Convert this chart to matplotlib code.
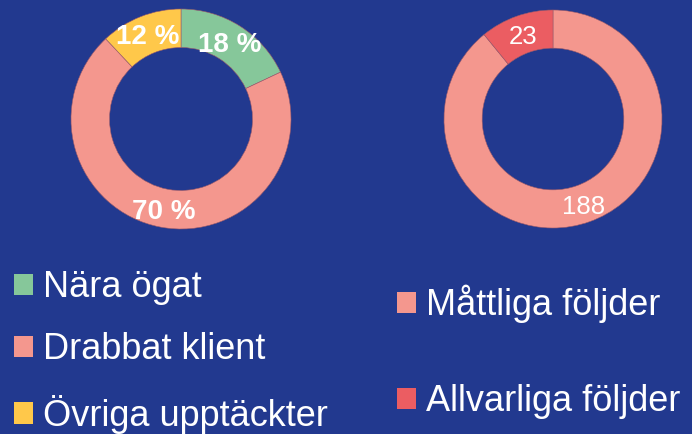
import matplotlib.pyplot as plt
from matplotlib.patches import Patch

plt.rcParams['font.family'] = ['Liberation Sans', 'DejaVu Sans']

# data
left_labels = ['Nära ögat', 'Drabbat klient', 'Övriga upptäckter']
left_values = [18, 70, 12]
left_colors = ['#86C79A', '#F4978E', '#FFC84A']

right_labels = ['Måttliga följder', 'Allvarliga följder']
right_values = [188, 23]
right_colors = ['#F4978E', '#EB5D62']

bg = '#22398F'
W, H = 692, 434

fig = plt.figure(figsize=(W / 100, H / 100), dpi=100, facecolor=bg)


def donut(cx, cy, r, values, colors, fmt, weight, size):
    ax = fig.add_axes([(cx - r) / W, (H - cy - r) / H, 2 * r / W, 2 * r / H])
    wedges, texts, autotexts = ax.pie(
        values, colors=colors, startangle=90, counterclock=False,
        wedgeprops=dict(width=0.35, edgecolor='#9a5a6a', linewidth=0.4),
        autopct=fmt, pctdistance=0.83,
        textprops=dict(color='white', fontsize=size, fontweight=weight))
    # labels sit a touch lower in the original
    for t in autotexts:
        x, y = t.get_position()
        t.set_position((x, y - 0.03))
    ax.set_xlim(-1, 1)
    ax.set_ylim(-1, 1)
    ax.set_aspect('equal')
    return wedges


total_r = sum(right_values)
donut(181, 119, 110, left_values, left_colors,
      lambda p: f"{p:.0f} %", 'bold', 20)
donut(553, 119, 109, right_values, right_colors,
      lambda p: f"{round(p * total_r / 100)}", 'normal', 18.5)

leg_kw = dict(frameon=False, labelcolor='white', fontsize=26,
              handlelength=0.53, handleheight=0.53, handletextpad=0.27,
              borderpad=0, borderaxespad=0)

h1 = [Patch(facecolor=c, label=l) for c, l in zip(left_colors, left_labels)]
fig.legend(handles=h1, loc='upper left', bbox_to_anchor=(14 / W, 1 - 270 / H),
           labelspacing=0.76, **leg_kw)

h2 = [Patch(facecolor=c, label=l) for c, l in zip(right_colors, right_labels)]
fig.legend(handles=h2, loc='upper left', bbox_to_anchor=(397 / W, 1 - 285 / H),
           labelspacing=1.68, **leg_kw)

fig.savefig('out.png', dpi=100, facecolor=bg)
